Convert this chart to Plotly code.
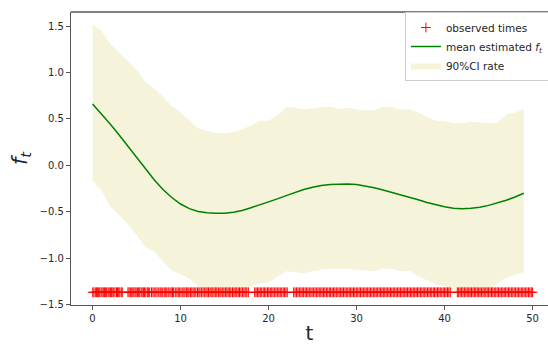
import plotly.graph_objects as go

t_grid = list(range(50))

mean_f = [0.66, 0.555, 0.445, 0.33, 0.21, 0.085, -0.04, -0.155, -0.26, -0.345,
          -0.415, -0.465, -0.495, -0.51, -0.515, -0.515, -0.505, -0.485, -0.455, -0.425,
          -0.395, -0.36, -0.325, -0.29, -0.26, -0.235, -0.215, -0.205, -0.2, -0.2,
          -0.205, -0.22, -0.24, -0.265, -0.29, -0.315, -0.34, -0.37, -0.4, -0.425,
          -0.445, -0.46, -0.465, -0.46, -0.45, -0.43, -0.405, -0.375, -0.34, -0.3]

upper_ci = [1.52, 1.45, 1.31, 1.22, 1.12, 1.03, 0.90, 0.83, 0.74, 0.64,
            0.57, 0.48, 0.40, 0.37, 0.35, 0.345, 0.36, 0.39, 0.43, 0.48,
            0.48, 0.54, 0.63, 0.62, 0.605, 0.615, 0.63, 0.635, 0.61, 0.62,
            0.60, 0.595, 0.59, 0.635, 0.63, 0.60, 0.605, 0.57, 0.52, 0.48,
            0.475, 0.46, 0.45, 0.47, 0.46, 0.457, 0.457, 0.55, 0.57, 0.605]

lower_ci = [-0.17, -0.27, -0.44, -0.54, -0.63, -0.75, -0.88, -0.93, -1.03, -1.13,
            -1.17, -1.22, -1.30, -1.36, -1.40, -1.41, -1.40, -1.36, -1.30, -1.27,
            -1.26, -1.20, -1.14, -1.15, -1.16, -1.14, -1.12, -1.115, -1.113, -1.115,
            -1.124, -1.13, -1.14, -1.11, -1.113, -1.14, -1.135, -1.19, -1.24, -1.285,
            -1.30, -1.36, -1.40, -1.41, -1.40, -1.36, -1.27, -1.21, -1.18, -1.153]

observed_times = [
    0.02, 0.15, 0.31, 0.44, 0.58, 0.66, 0.81, 0.97, 1.08, 1.22, 1.35, 1.49, 1.60, 1.77, 1.89,
    2.03, 2.14, 2.30, 2.41, 2.55, 2.72, 2.84, 2.97, 3.10, 3.26, 3.38,
    4.02, 4.15, 4.29, 4.40, 4.57, 4.69, 4.83, 4.95, 5.10, 5.24, 5.36, 5.52, 5.63, 5.78, 5.91,
    6.05, 6.22, 6.34, 6.49, 6.70, 6.86, 7.01, 7.19, 7.33, 7.52, 7.68, 7.80, 7.97, 8.15, 8.31,
    8.44, 8.60, 8.79, 8.93, 9.08, 9.21, 9.40, 9.58, 9.73, 9.86, 10.04, 10.19, 10.37, 10.50,
    10.66, 10.82, 10.95, 11.13, 11.28, 11.43, 11.61, 11.74, 11.92, 12.08, 12.21, 12.39, 12.55,
    12.70, 12.88, 13.02, 13.17, 13.35, 13.48, 13.66, 13.81, 13.99, 14.12, 14.30, 14.47, 14.60,
    14.79, 14.93, 15.10, 15.26, 15.41, 15.58, 15.72, 15.90, 16.07, 16.21, 16.38, 16.55, 16.70,
    16.86, 17.03, 17.20, 17.35, 17.52, 17.70,
    18.42, 18.58, 18.75, 18.90, 19.06, 19.22, 19.39, 19.55, 19.70, 19.88, 20.03, 20.20, 20.36,
    20.51, 20.69, 20.84, 21.00, 21.17, 21.33, 21.49, 21.66, 21.80, 21.97, 22.12,
    22.85, 23.01, 23.18, 23.34, 23.50, 23.67, 23.82, 23.98, 24.15, 24.30, 24.47, 24.63, 24.80,
    24.95, 25.12, 25.28, 25.43, 25.61, 25.76, 25.93, 26.08, 26.25, 26.40, 26.57, 26.73, 26.90,
    27.05, 27.22, 27.38, 27.54, 27.70, 27.87, 28.02, 28.19, 28.35, 28.51, 28.68, 28.83, 29.00,
    29.16, 29.32, 29.48, 29.65, 29.80, 29.97, 30.13, 30.29, 30.45, 30.62, 30.77, 30.94, 31.10,
    31.26, 31.42, 31.59, 31.74, 31.91, 32.07, 32.23, 32.39, 32.56, 32.71, 32.88, 33.04, 33.20,
    33.36, 33.53, 33.68, 33.85, 34.01, 34.17, 34.33, 34.50, 34.66, 34.82, 34.98, 35.15, 35.30,
    35.47, 35.63, 35.79, 35.95, 36.12, 36.28, 36.44, 36.60, 36.77, 36.92, 37.09, 37.25, 37.41,
    37.57, 37.74, 37.89, 38.06, 38.22, 38.38, 38.54, 38.71, 38.86, 39.03, 39.19, 39.35, 39.51,
    39.68, 39.84, 40.00, 40.16, 40.33, 40.48, 40.65,
    41.45, 41.60, 41.77, 41.93, 42.09, 42.25, 42.42, 42.57, 42.74, 42.90, 43.06, 43.22, 43.39,
    43.54, 43.71, 43.87, 44.03, 44.19, 44.36, 44.51, 44.68, 44.84, 45.00, 45.16, 45.33, 45.48,
    45.65, 45.81, 45.97, 46.13, 46.30, 46.45, 46.62, 46.78, 46.94, 47.10, 47.27, 47.42, 47.59,
    47.75, 47.91, 48.07, 48.24, 48.39, 48.56, 48.72, 48.88, 49.04, 49.21, 49.36, 49.53, 49.69,
    49.85, 49.98]
observed_level = -1.365

x_ticks = [0, 10, 20, 30, 40, 50]
y_ticks = [-1.5, -1.0, -0.5, 0.0, 0.5, 1.0, 1.5]

FONT = "DejaVu Sans"
BAND = "#F5F4DA"

fig = go.Figure()
fig.add_trace(go.Scatter(x=t_grid, y=lower_ci, mode="lines", line=dict(width=0, color=BAND),
                         showlegend=False, hoverinfo="skip"))
fig.add_trace(go.Scatter(x=t_grid, y=upper_ci, mode="lines", line=dict(width=0, color=BAND),
                         fill="tonexty", fillcolor=BAND, name="90%CI rate", legendrank=3))
fig.add_trace(go.Scatter(x=t_grid, y=mean_f, mode="lines", line=dict(color="#008000", width=1.5),
                         name="mean estimated <i>f</i><sub><i>t</i></sub>", legendrank=2))
fig.add_trace(go.Scatter(x=observed_times, y=[observed_level] * len(observed_times), mode="markers",
                         marker=dict(symbol="cross-thin", size=7, color="red",
                                     line=dict(color="red", width=1)),
                         name="observed times", legendrank=1))

axis_common = dict(showgrid=False, zeroline=False, showline=True, linecolor="#555555",
                   linewidth=1.3, ticks="outside", ticklen=4, tickwidth=1, tickcolor="#555555",
                   tickfont=dict(family=FONT, size=10, color="#262626"))

fig.update_layout(
    width=548, height=345,
    margin=dict(l=71, r=0, t=12, b=40, autoexpand=False),
    paper_bgcolor="white", plot_bgcolor="white",
    font=dict(family=FONT, size=10, color="#262626"),
    xaxis=dict(range=[-2.45, 51.75], tickvals=x_ticks, ticktext=[str(v) for v in x_ticks],
               title=dict(text="t", font=dict(family=FONT, size=20, color="#262626"), standoff=7),
               **axis_common),
    yaxis=dict(range=[-1.502, 1.651], tickvals=y_ticks,
               ticktext=[("\u2212" if v < 0 else "") + f"{abs(v):.1f}" for v in y_ticks],
               title=dict(text="<i>f</i><sub><i>t</i></sub>", font=dict(family=FONT, size=21, color="#262626"),
                          standoff=6),
               **axis_common),
    legend=dict(x=0.70, y=1.0, xanchor="left", yanchor="top", traceorder="normal",
                bgcolor="rgba(255,255,255,0.9)", bordercolor="#cccccc", borderwidth=1,
                font=dict(family=FONT, size=10.5, color="#262626"),
                tracegroupgap=0, itemwidth=30),
    shapes=[dict(type="line", xref="paper", yref="paper", x0=0, x1=1, y0=1, y1=1,
                 line=dict(color="black", width=1))],
    showlegend=True,
)

fig.write_html("out.html")
